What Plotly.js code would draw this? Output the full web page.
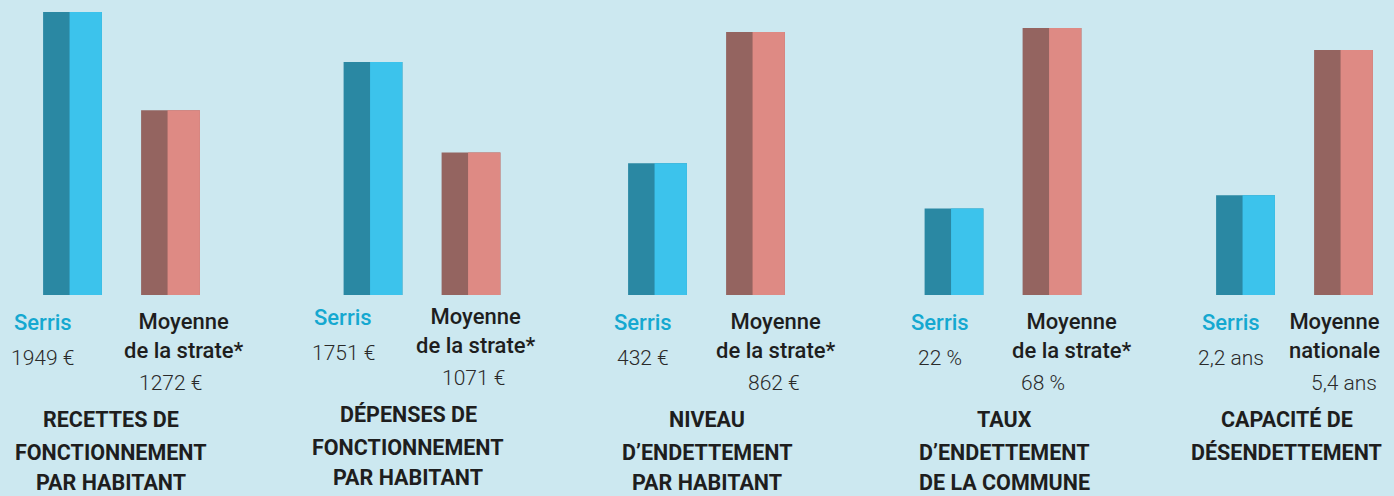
<!DOCTYPE html>
<html>
<head>
<meta charset="utf-8">
<script src="https://cdn.plot.ly/plotly-3.0.1.min.js"></script>
<style>
  html, body { margin: 0; padding: 0; background: #cce8f0; }
  #chart { width: 1394px; height: 496px; }
</style>
</head>
<body>
<div id="chart"></div>
<script>
var groupTitles = [
  'RECETTES DE<br>FONCTIONNEMENT<br>PAR HABITANT',
  'DÉPENSES DE<br>FONCTIONNEMENT<br>PAR HABITANT',
  'NIVEAU<br>D’ENDETTEMENT<br>PAR HABITANT',
  'TAUX<br>D’ENDETTEMENT<br>DE LA COMMUNE',
  'CAPACITÉ DE<br>DÉSENDETTEMENT'
];
var seriesNames = ['Serris', 'Moyenne'];
var moyenneNames = [
  'Moyenne<br>de la strate*',
  'Moyenne<br>de la strate*',
  'Moyenne<br>de la strate*',
  'Moyenne<br>de la strate*',
  'Moyenne<br>nationale'
];
var serrisValues = [1949, 1751, 432, 22, 2.2];
var moyenneValues = [1272, 1071, 862, 68, 5.4];
var serrisLabels = ['1949 €', '1751 €', '432 €', '22 %', '2,2 ans'];
var moyenneLabels = ['1272 €', '1071 €', '862 €', '68 %', '5,4 ans'];
var axisMax = [2032, 2217, 967, 75.1, 6.5];

// layout helpers (pixels)
var W = 1394, H = 496;
var baseline = 295;
var centers = [121.5, 422, 706.5, 1003, 1294.5];
var groupWidth = 196;
var serrisShift = [-30, -30, -15, -14, -15];
var moyShift = [13, 5, 20, 20, -9];
var moyValShift = [0, 2, 18, -9, 0];
var titleShift = [-11, -14, 0, 1, -8];
var rowShift = [0, -5, 0, 0, 0];
var titleLineY = [419, 452, 482];

var darkCols = ['#2a88a3', '#946460'];
var lightCols = ['#3cc3ec', '#de8a84'];
var bgColor = '#cce8f0';

var data = [];
var layout = {
  width: W, height: H,
  margin: {l: 0, r: 0, t: 0, b: 0},
  paper_bgcolor: bgColor,
  plot_bgcolor: bgColor,
  barmode: 'overlay',
  showlegend: false,
  font: {family: 'Roboto, sans-serif', color: '#1e1e1e'},
  annotations: []
};

function py(p) { return 1 - p / H; }

groupTitles.forEach((title, i) => {
  var n = i === 0 ? '' : String(i + 1);
  var xa = 'x' + n, ya = 'y' + n;
  var vals = [serrisValues[i], moyenneValues[i]];
  [0, 1].forEach(s => {
    // darker left face
    data.push({
      type: 'bar', x: [seriesNames[s]], y: [vals[s]],
      xaxis: xa, yaxis: ya,
      width: 0.6, offset: -0.3,
      marker: {color: darkCols[s], line: {width: 0}},
      hoverinfo: 'skip'
    });
    // lighter right face
    data.push({
      type: 'bar', x: [seriesNames[s]], y: [vals[s]],
      xaxis: xa, yaxis: ya,
      width: 0.33, offset: -0.03,
      marker: {color: lightCols[s], line: {width: 0}},
      hoverinfo: 'skip'
    });
  });
  var d0 = (centers[i] - groupWidth / 2) / W, d1 = (centers[i] + groupWidth / 2) / W;
  layout['xaxis' + n] = {
    domain: [d0, d1], anchor: ya, type: 'category',
    categoryorder: 'array', categoryarray: seriesNames,
    range: [-0.5, 1.5], showticklabels: false, showgrid: false,
    zeroline: false, showline: false, fixedrange: true
  };
  layout['yaxis' + n] = {
    domain: [py(baseline), 1], anchor: xa, range: [0, axisMax[i]],
    showticklabels: false, showgrid: false, zeroline: false,
    showline: false, fixedrange: true
  };
  var dy = rowShift[i];
  var ann = layout.annotations;
  ann.push({xref: xa, yref: 'paper', x: 'Serris', y: py(322 + dy), xshift: serrisShift[i],
    xanchor: 'center', text: 'Serris', showarrow: false, yanchor: 'middle',
    font: {size: 22, color: '#15a8d0', weight: 500}});
  ann.push({xref: xa, yref: 'paper', x: 'Serris', y: py(358 + dy), xshift: serrisShift[i],
    xanchor: 'center', text: serrisLabels[i], showarrow: false, yanchor: 'middle',
    font: {size: 21, color: '#2a2a2a', weight: 300}});
  ann.push({xref: xa, yref: 'paper', x: 'Moyenne', y: py(336 + dy), xshift: moyShift[i],
    xanchor: 'center', text: moyenneNames[i], showarrow: false, yanchor: 'middle',
    font: {size: 22, color: '#1e1e1e', weight: 500}});
  ann.push({xref: xa, yref: 'paper', x: 'Moyenne', y: py(383 + dy), xshift: moyValShift[i],
    xanchor: 'center', text: moyenneLabels[i], showarrow: false, yanchor: 'middle',
    font: {size: 21, color: '#2a2a2a', weight: 300}});
  title.split('<br>').forEach((line, k) => {
    ann.push({xref: 'paper', yref: 'paper', x: centers[i] / W, y: py(titleLineY[k] + dy),
      xshift: titleShift[i], xanchor: 'center', yanchor: 'middle',
      text: '<b>' + line + '</b>', showarrow: false, borderpad: 0,
      font: {size: 21.5, color: '#1e1e1e'}});
  });
});

Plotly.newPlot('chart', data, layout, {staticPlot: true});
</script>
</body>
</html>
